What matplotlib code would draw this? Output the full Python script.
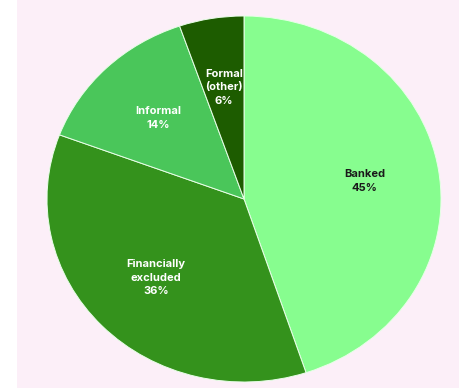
import numpy as np
import matplotlib.pyplot as plt
from matplotlib.patches import Rectangle

categories = ['Banked', 'Financially\nexcluded', 'Informal', 'Formal\n(other)']
shares = [44.9, 35.8, 14.0, 5.3]
pct_labels = ['45%', '36%', '14%', '6%']
colors = ['#87FD8F', '#34921C', '#4AC65A', '#1D5C00']
text_colors = ['#1a1a1a', 'white', 'white', 'white']

fig = plt.figure(figsize=(4.6, 3.9), dpi=100, facecolor='white')
# pink panel behind the pie
fig.patches.append(Rectangle((17 / 460, 2 / 390), 1 - 17 / 460, 1 - 2 / 390,
                             transform=fig.transFigure, facecolor='#FCEFF8',
                             edgecolor='none', zorder=0))

ax = fig.add_axes([47 / 460, 8 / 390, 394 / 460, 366 / 390])
ax.set_zorder(2)
ax.patch.set_visible(False)
wedges, _ = ax.pie(shares, colors=colors, startangle=90, counterclock=False,
                   wedgeprops=dict(edgecolor='#E8FFE8', linewidth=0.7))
ax.set_aspect('auto')
ax.set_xlim(-1, 1)
ax.set_ylim(-1, 1)
ax.axis('off')

for w, name, pct, tc in zip(wedges, categories, pct_labels, text_colors):
    ang = np.deg2rad((w.theta1 + w.theta2) / 2)
    r = 0.62
    ax.text(r * np.cos(ang), r * np.sin(ang), name + '\n' + pct,
            ha='center', va='center', color=tc, fontsize=8,
            fontweight='bold', family='Inter', linespacing=1.45)

fig.savefig('out.png', dpi=100, facecolor=fig.get_facecolor())
